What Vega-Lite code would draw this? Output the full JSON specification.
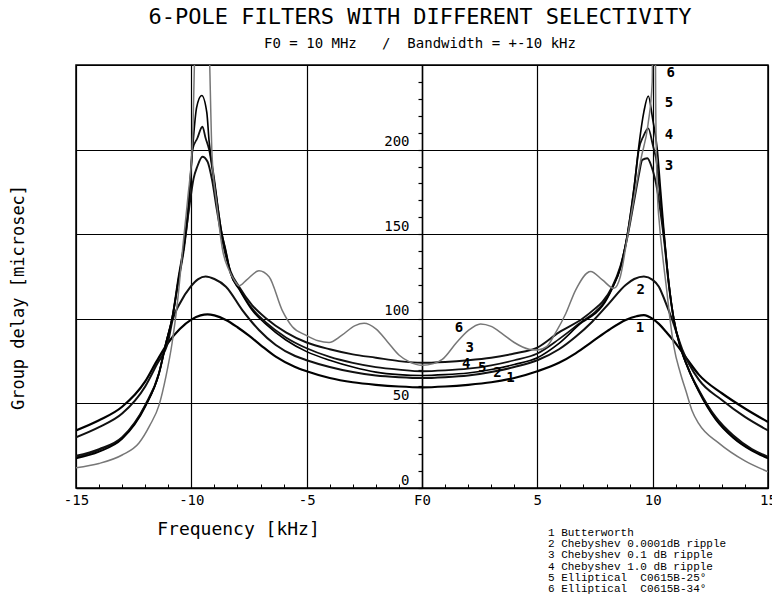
{
 "$schema": "https://vega.github.io/schema/vega-lite/v6.json",
 "width": 692,
 "height": 423,
 "autosize": {"type": "none"},
 "padding": {"left": 76, "top": 65, "right": 4, "bottom": 108},
 "background": "white",
 "config": {"view": {"stroke": "black", "strokeWidth": 1.5}, "font": "DejaVu Sans Mono"},
 "title": {
  "text": "6-POLE FILTERS WITH DIFFERENT SELECTIVITY",
  "subtitle": "F0 = 10 MHz\u00a0\u00a0\u00a0/\u00a0\u00a0Bandwidth = +-10 kHz",
  "frame": "group",
  "anchor": "middle",
  "dx": -2,
  "offset": 13,
  "font": "DejaVu Sans Mono",
  "fontSize": 22,
  "fontWeight": "normal",
  "color": "black",
  "subtitleFont": "DejaVu Sans Mono",
  "subtitleFontSize": 14,
  "subtitleColor": "black",
  "subtitlePadding": 8
 },
 "datasets": {
  "curves": [
   {"c":"1","f":-15,"v":34},{"c":"1","f":-14,"v":40},{"c":"1","f":-13,"v":48},{"c":"1","f":-12,"v":63},{"c":"1","f":-11.5,"v":75},{"c":"1","f":-11,"v":86},{"c":"1","f":-10.5,"v":94},{"c":"1","f":-10,"v":99.5},{"c":"1","f":-9.6,"v":102},{"c":"1","f":-9.3,"v":102.6},{"c":"1","f":-9,"v":102},{"c":"1","f":-8.5,"v":99.3},{"c":"1","f":-8,"v":95},{"c":"1","f":-7.5,"v":90},{"c":"1","f":-7,"v":84.5},{"c":"1","f":-6.34,"v":77.6},{"c":"1","f":-5.5,"v":71.5},{"c":"1","f":-5,"v":69},{"c":"1","f":-4,"v":65},{"c":"1","f":-3,"v":62.5},{"c":"1","f":-2,"v":61},{"c":"1","f":-1,"v":60},{"c":"1","f":0,"v":59.5},{"c":"1","f":1,"v":60},{"c":"1","f":2,"v":61},{"c":"1","f":3,"v":62.5},{"c":"1","f":4,"v":65},{"c":"1","f":5,"v":69},{"c":"1","f":5.94,"v":74},{"c":"1","f":6.66,"v":79.6},{"c":"1","f":7.38,"v":86.5},{"c":"1","f":8.1,"v":93.4},{"c":"1","f":8.83,"v":99.3},{"c":"1","f":9.3,"v":101.5},{"c":"1","f":9.62,"v":102.2},{"c":"1","f":10,"v":100},{"c":"1","f":10.27,"v":97},{"c":"1","f":10.6,"v":92},{"c":"1","f":11,"v":85.5},{"c":"1","f":11.5,"v":76},{"c":"1","f":12,"v":67},{"c":"1","f":13,"v":56},{"c":"1","f":14,"v":47},{"c":"1","f":15,"v":39},

   {"c":"2","f":-15,"v":30},{"c":"2","f":-14,"v":36},{"c":"2","f":-13,"v":44},{"c":"2","f":-12,"v":60},{"c":"2","f":-11.5,"v":73},{"c":"2","f":-11,"v":87},{"c":"2","f":-10.82,"v":99},{"c":"2","f":-10.5,"v":109},{"c":"2","f":-10.03,"v":119},{"c":"2","f":-9.7,"v":123.5},{"c":"2","f":-9.38,"v":125},{"c":"2","f":-9,"v":123.5},{"c":"2","f":-8.5,"v":119},{"c":"2","f":-7.79,"v":105.2},{"c":"2","f":-7.07,"v":93.4},{"c":"2","f":-6.34,"v":84.5},{"c":"2","f":-5.5,"v":78},{"c":"2","f":-5,"v":75.5},{"c":"2","f":-4,"v":71.5},{"c":"2","f":-3,"v":68.5},{"c":"2","f":-2,"v":66.5},{"c":"2","f":-1,"v":65.5},{"c":"2","f":0,"v":65},{"c":"2","f":1,"v":65.5},{"c":"2","f":2,"v":66.5},{"c":"2","f":3,"v":68.5},{"c":"2","f":4,"v":71.5},{"c":"2","f":5,"v":75.5},{"c":"2","f":5.94,"v":82},{"c":"2","f":6.66,"v":89.4},{"c":"2","f":7.38,"v":98.3},{"c":"2","f":8.1,"v":109},{"c":"2","f":8.83,"v":120},{"c":"2","f":9.2,"v":123.5},{"c":"2","f":9.62,"v":125},{"c":"2","f":10,"v":123},{"c":"2","f":10.27,"v":119},{"c":"2","f":10.55,"v":110},{"c":"2","f":10.85,"v":99.3},{"c":"2","f":11.28,"v":82},{"c":"2","f":12,"v":64},{"c":"2","f":13,"v":52},{"c":"2","f":14,"v":42},{"c":"2","f":15,"v":34},

   {"c":"3","f":-15,"v":19},{"c":"3","f":-14,"v":23},{"c":"3","f":-13,"v":30},{"c":"3","f":-12,"v":49},{"c":"3","f":-11.4,"v":68},{"c":"3","f":-11.1,"v":85.5},{"c":"3","f":-10.82,"v":101},{"c":"3","f":-10.55,"v":125},{"c":"3","f":-10.3,"v":145},{"c":"3","f":-10.1,"v":165},{"c":"3","f":-9.9,"v":183},{"c":"3","f":-9.74,"v":190},{"c":"3","f":-9.52,"v":195.8},{"c":"3","f":-9.3,"v":193},{"c":"3","f":-9.1,"v":182},{"c":"3","f":-8.9,"v":165},{"c":"3","f":-8.7,"v":149.5},{"c":"3","f":-8.5,"v":137},{"c":"3","f":-8.3,"v":128},{"c":"3","f":-7.93,"v":119},{"c":"3","f":-7.36,"v":108},{"c":"3","f":-6.78,"v":100.5},{"c":"3","f":-5.9,"v":92},{"c":"3","f":-5,"v":86},{"c":"3","f":-4,"v":82},{"c":"3","f":-3,"v":79},{"c":"3","f":-2,"v":77},{"c":"3","f":-1,"v":75},{"c":"3","f":0,"v":74},{"c":"3","f":1,"v":74.5},{"c":"3","f":2,"v":75.5},{"c":"3","f":3,"v":77},{"c":"3","f":4,"v":79.5},{"c":"3","f":5,"v":83},{"c":"3","f":5.94,"v":92},{"c":"3","f":6.95,"v":100},{"c":"3","f":7.5,"v":106},{"c":"3","f":7.82,"v":110},{"c":"3","f":8.25,"v":119},{"c":"3","f":8.6,"v":131},{"c":"3","f":8.9,"v":148},{"c":"3","f":9.2,"v":170},{"c":"3","f":9.4,"v":185},{"c":"3","f":9.55,"v":193.9},{"c":"3","f":9.77,"v":194.9},{"c":"3","f":9.95,"v":190},{"c":"3","f":10.2,"v":176},{"c":"3","f":10.35,"v":162},{"c":"3","f":10.5,"v":146},{"c":"3","f":10.7,"v":120},{"c":"3","f":10.92,"v":99.3},{"c":"3","f":11.2,"v":83.5},{"c":"3","f":11.57,"v":69.7},{"c":"3","f":12,"v":58},{"c":"3","f":12.73,"v":42},{"c":"3","f":13.5,"v":31},{"c":"3","f":14.3,"v":23},{"c":"3","f":15,"v":18.5},

   {"c":"4","f":-15,"v":18},{"c":"4","f":-14,"v":22.5},{"c":"4","f":-13,"v":29.5},{"c":"4","f":-12,"v":48.5},{"c":"4","f":-11.4,"v":67.8},{"c":"4","f":-11.1,"v":85.5},{"c":"4","f":-10.82,"v":101},{"c":"4","f":-10.55,"v":123},{"c":"4","f":-10.3,"v":143},{"c":"4","f":-10.1,"v":168},{"c":"4","f":-9.95,"v":200},{"c":"4","f":-9.74,"v":206.7},{"c":"4","f":-9.52,"v":213.5},{"c":"4","f":-9.38,"v":206.7},{"c":"4","f":-9.23,"v":200},{"c":"4","f":-9,"v":180},{"c":"4","f":-8.7,"v":152},{"c":"4","f":-8.5,"v":139},{"c":"4","f":-8.3,"v":127},{"c":"4","f":-7.93,"v":118},{"c":"4","f":-7.36,"v":106},{"c":"4","f":-6.78,"v":98},{"c":"4","f":-5.9,"v":89},{"c":"4","f":-5,"v":82.6},{"c":"4","f":-4,"v":77.5},{"c":"4","f":-3,"v":74},{"c":"4","f":-2,"v":71.5},{"c":"4","f":-1,"v":70},{"c":"4","f":0,"v":69},{"c":"4","f":1,"v":69.5},{"c":"4","f":2,"v":70.5},{"c":"4","f":3,"v":72.5},{"c":"4","f":4,"v":75.5},{"c":"4","f":5,"v":79.5},{"c":"4","f":5.94,"v":88},{"c":"4","f":6.95,"v":98.5},{"c":"4","f":7.5,"v":104},{"c":"4","f":7.82,"v":108.5},{"c":"4","f":8.25,"v":118.5},{"c":"4","f":8.6,"v":130},{"c":"4","f":8.9,"v":149.5},{"c":"4","f":9.2,"v":178},{"c":"4","f":9.4,"v":200},{"c":"4","f":9.6,"v":208},{"c":"4","f":9.81,"v":212.6},{"c":"4","f":10,"v":203},{"c":"4","f":10.2,"v":190},{"c":"4","f":10.35,"v":168},{"c":"4","f":10.5,"v":148},{"c":"4","f":10.7,"v":121},{"c":"4","f":10.92,"v":99.3},{"c":"4","f":11.2,"v":83.5},{"c":"4","f":11.57,"v":69.7},{"c":"4","f":12,"v":57.5},{"c":"4","f":12.73,"v":41},{"c":"4","f":13.5,"v":30},{"c":"4","f":14.3,"v":22.5},{"c":"4","f":15,"v":18},

   {"c":"5","f":-15,"v":17.5},{"c":"5","f":-14,"v":21.5},{"c":"5","f":-13,"v":29},{"c":"5","f":-12,"v":48},{"c":"5","f":-11.4,"v":67.8},{"c":"5","f":-11.1,"v":85.5},{"c":"5","f":-10.82,"v":101},{"c":"5","f":-10.55,"v":124},{"c":"5","f":-10.3,"v":145},{"c":"5","f":-10.1,"v":172},{"c":"5","f":-9.95,"v":200},{"c":"5","f":-9.77,"v":225},{"c":"5","f":-9.55,"v":232},{"c":"5","f":-9.33,"v":222},{"c":"5","f":-9.23,"v":205},{"c":"5","f":-9,"v":182},{"c":"5","f":-8.7,"v":152},{"c":"5","f":-8.5,"v":140},{"c":"5","f":-8.3,"v":127},{"c":"5","f":-7.93,"v":117.5},{"c":"5","f":-7.36,"v":105},{"c":"5","f":-6.78,"v":97},{"c":"5","f":-5.9,"v":87.5},{"c":"5","f":-5,"v":80.6},{"c":"5","f":-4,"v":75.5},{"c":"5","f":-3,"v":71.5},{"c":"5","f":-2,"v":68.5},{"c":"5","f":-1,"v":67},{"c":"5","f":0,"v":66.5},{"c":"5","f":1,"v":67},{"c":"5","f":2,"v":68},{"c":"5","f":3,"v":70},{"c":"5","f":4,"v":73},{"c":"5","f":5,"v":77},{"c":"5","f":5.94,"v":85.5},{"c":"5","f":6.95,"v":98},{"c":"5","f":7.5,"v":103},{"c":"5","f":7.82,"v":107.5},{"c":"5","f":8.25,"v":118},{"c":"5","f":8.6,"v":130},{"c":"5","f":8.9,"v":149.5},{"c":"5","f":9.2,"v":178},{"c":"5","f":9.4,"v":202},{"c":"5","f":9.62,"v":222.4},{"c":"5","f":9.81,"v":231.7},{"c":"5","f":10,"v":218},{"c":"5","f":10.2,"v":200},{"c":"5","f":10.35,"v":175},{"c":"5","f":10.5,"v":150},{"c":"5","f":10.7,"v":121},{"c":"5","f":10.92,"v":99.3},{"c":"5","f":11.2,"v":83.5},{"c":"5","f":11.57,"v":69.7},{"c":"5","f":12,"v":57},{"c":"5","f":12.73,"v":40.5},{"c":"5","f":13.5,"v":29.5},{"c":"5","f":14.3,"v":22},{"c":"5","f":15,"v":17.5},

   {"c":"6","f":-15,"v":12},{"c":"6","f":-14,"v":14.5},{"c":"6","f":-13,"v":19.5},{"c":"6","f":-12.27,"v":26.6},{"c":"6","f":-11.8,"v":37},{"c":"6","f":-11.4,"v":49},{"c":"6","f":-11.1,"v":66},{"c":"6","f":-10.83,"v":86},{"c":"6","f":-10.6,"v":110},{"c":"6","f":-10.35,"v":145},{"c":"6","f":-10.15,"v":172},{"c":"6","f":-9.95,"v":205},{"c":"6","f":-9.85,"v":260},{"c":"6","f":-9.55,"v":420},{"c":"6","f":-9.22,"v":260},{"c":"6","f":-9.1,"v":196},{"c":"6","f":-8.9,"v":168},{"c":"6","f":-8.65,"v":141},{"c":"6","f":-8.37,"v":128.8},{"c":"6","f":-8.1,"v":122},{"c":"6","f":-7.93,"v":119.5},{"c":"6","f":-7.6,"v":123},{"c":"6","f":-7.07,"v":128.4},{"c":"6","f":-6.63,"v":124.9},{"c":"6","f":-6.06,"v":105},{"c":"6","f":-5.62,"v":95.3},{"c":"6","f":-5.04,"v":90.4},{"c":"6","f":-4.5,"v":87},{"c":"6","f":-4.03,"v":86},{"c":"6","f":-3.5,"v":90},{"c":"6","f":-2.9,"v":96},{"c":"6","f":-2.51,"v":97.3},{"c":"6","f":-2,"v":94},{"c":"6","f":-1.5,"v":86.5},{"c":"6","f":-1,"v":78.6},{"c":"6","f":-0.56,"v":74.7},{"c":"6","f":0,"v":72.5},{"c":"6","f":0.5,"v":73.5},{"c":"6","f":0.88,"v":76},{"c":"6","f":1.5,"v":86},{"c":"6","f":2,"v":93},{"c":"6","f":2.54,"v":97},{"c":"6","f":3,"v":95.5},{"c":"6","f":3.5,"v":91},{"c":"6","f":4,"v":86},{"c":"6","f":4.64,"v":82},{"c":"6","f":5,"v":81.5},{"c":"6","f":5.4,"v":83.5},{"c":"6","f":5.8,"v":92},{"c":"6","f":6.23,"v":103},{"c":"6","f":6.66,"v":117},{"c":"6","f":7.31,"v":128},{"c":"6","f":7.82,"v":123},{"c":"6","f":8.32,"v":118},{"c":"6","f":8.6,"v":125},{"c":"6","f":8.9,"v":148},{"c":"6","f":9.2,"v":172},{"c":"6","f":9.5,"v":195},{"c":"6","f":9.8,"v":215},{"c":"6","f":9.98,"v":240},{"c":"6","f":10.06,"v":420},{"c":"6","f":10.13,"v":230},{"c":"6","f":10.2,"v":176},{"c":"6","f":10.3,"v":155},{"c":"6","f":10.45,"v":135},{"c":"6","f":10.6,"v":118},{"c":"6","f":10.75,"v":100},{"c":"6","f":10.92,"v":83.5},{"c":"6","f":11.2,"v":68},{"c":"6","f":11.45,"v":57},{"c":"6","f":11.7,"v":46},{"c":"6","f":12,"v":38},{"c":"6","f":12.87,"v":26.5},{"c":"6","f":14,"v":16},{"c":"6","f":15,"v":9.6}
  ],
  "labels": [
   {"t":"6","f":10.78,"v":245},{"t":"5","f":10.71,"v":227.4},{"t":"4","f":10.71,"v":208.6},{"t":"3","f":10.71,"v":190.3},{"t":"2","f":9.48,"v":117},{"t":"1","f":9.45,"v":94.4},
   {"t":"6","f":1.6,"v":94.4},{"t":"3","f":2.07,"v":83},{"t":"4","f":1.92,"v":73.5},{"t":"5","f":2.61,"v":70.7},{"t":"2","f":3.27,"v":67.8},{"t":"1","f":3.84,"v":64.8}
  ],
  "legend": [
   {"t":"1 Butterworth","f":5.46,"v":-26.6},
   {"t":"2 Chebyshev 0.0001dB ripple","f":5.46,"v":-33.2},
   {"t":"3 Chebyshev 0.1 dB ripple","f":5.46,"v":-39.8},
   {"t":"4 Chebyshev 1.0 dB ripple","f":5.46,"v":-46.4},
   {"t":"5 Elliptical\u00a0\u00a0C0615B-25°","f":5.46,"v":-53.0},
   {"t":"6 Elliptical\u00a0\u00a0C0615B-34°","f":5.46,"v":-59.6}
  ]
 },
 "resolve": {"axis": {"x": "independent", "y": "independent"}},
 "layer": [
  {
   "data": {"name": "curves"},
   "mark": {"type": "line", "clip": true, "interpolate": "monotone"},
   "encoding": {
    "x": {"field": "f", "type": "quantitative",
     "scale": {"domain": [-15, 15], "nice": false, "zero": false},
     "axis": {
      "orient": "bottom",
      "values": [-15, -10, -5, 0, 5, 10, 15],
      "labelExpr": "datum.value == 0 ? 'F0' : '' + datum.value",
      "labelOverlap": false,
      "labelFlush": false,
      "grid": true,
      "gridColor": "black",
      "gridWidth": 1.2,
      "domainColor": "black",
      "domainWidth": 1.5,
      "tickColor": "black",
      "tickSize": -4,
      "tickWidth": 1,
      "labelFont": "DejaVu Sans Mono",
      "labelFontSize": 14,
      "labelColor": "black",
      "labelPadding": 9,
      "title": "Frequency [kHz]",
      "titleX": 162,
      "titleY": 41,
      "titleAlign": "center",
      "titleBaseline": "middle",
      "titleFont": "DejaVu Sans Mono",
      "titleFontSize": 18,
      "titleFontWeight": "normal",
      "titleColor": "black"
     }
    },
    "y": {"field": "v", "type": "quantitative",
     "scale": {"domain": [0, 250], "nice": false, "zero": false},
     "axis": {
      "orient": "left",
      "values": [50, 100, 150, 200, 250],
      "labels": false,
      "ticks": false,
      "domain": false,
      "grid": true,
      "gridColor": "black",
      "gridWidth": 1.2,
      "title": "Group delay [microsec]",
      "titleX": -58,
      "titleY": 232,
      "titleAngle": 270,
      "titleAlign": "center",
      "titleBaseline": "middle",
      "titleFont": "DejaVu Sans Mono",
      "titleFontSize": 17,
      "titleFontWeight": "normal",
      "titleColor": "black"
     }
    },
    "color": {"field": "c", "type": "nominal", "scale": {"domain": ["1","2","3","4","5","6"], "range": ["#000000","#111111","#111111","#111111","#000000","#777777"]}, "legend": null},
    "strokeWidth": {"field": "c", "type": "ordinal", "scale": {"domain": ["1","2","3","4","5","6"], "range": [2.2, 1.5, 1.6, 1.8, 2.0, 0.9]}, "legend": null}
   }
  },
  {
   "data": {"name": "labels"},
   "mark": {"type": "text", "font": "DejaVu Sans Mono", "fontSize": 14, "fontWeight": "bold", "color": "black", "align": "center", "baseline": "middle"},
   "encoding": {
    "x": {"field": "f", "type": "quantitative",
     "axis": {
      "orient": "bottom",
      "values": [-14,-13,-12,-11,-9,-8,-7,-6,-4,-3,-2,-1,1,2,3,4,6,7,8,9,11,12,13,14],
      "labels": false,
      "grid": false,
      "domain": false,
      "tickColor": "black",
      "tickSize": -4,
      "tickWidth": 1,
      "title": null
     }
    },
    "y": {"field": "v", "type": "quantitative",
     "axis": {
      "orient": "left",
      "offset": -346,
      "values": [0, 50, 100, 150, 200],
      "labelOverlap": false,
      "labelFlush": false,
      "grid": false,
      "domainColor": "black",
      "domainWidth": 1.5,
      "tickColor": "black",
      "tickSize": 4,
      "tickWidth": 1.2,
      "labelFont": "DejaVu Sans Mono",
      "labelFontSize": 14,
      "labelColor": "black",
      "labelPadding": 9,
      "labelBaseline": "bottom",
      "labelOffset": -1,
      "title": null
     }
    },
    "text": {"field": "t"}
   }
  },
  {
   "data": {"name": "legend"},
   "mark": {"type": "text", "font": "Liberation Mono", "fontSize": 11, "color": "black", "align": "left", "baseline": "middle"},
   "encoding": {
    "x": {"field": "f", "type": "quantitative", "axis": null},
    "y": {"field": "v", "type": "quantitative",
     "axis": {
      "orient": "left",
      "offset": -346,
      "values": [10,20,30,40,60,70,80,90,110,120,130,140,160,170,180,190,210,220,230,240],
      "labels": false,
      "grid": false,
      "domain": false,
      "tickColor": "black",
      "tickSize": 4,
      "tickWidth": 1.2,
      "title": null
     }
    },
    "text": {"field": "t"}
   }
  }
 ]
}
